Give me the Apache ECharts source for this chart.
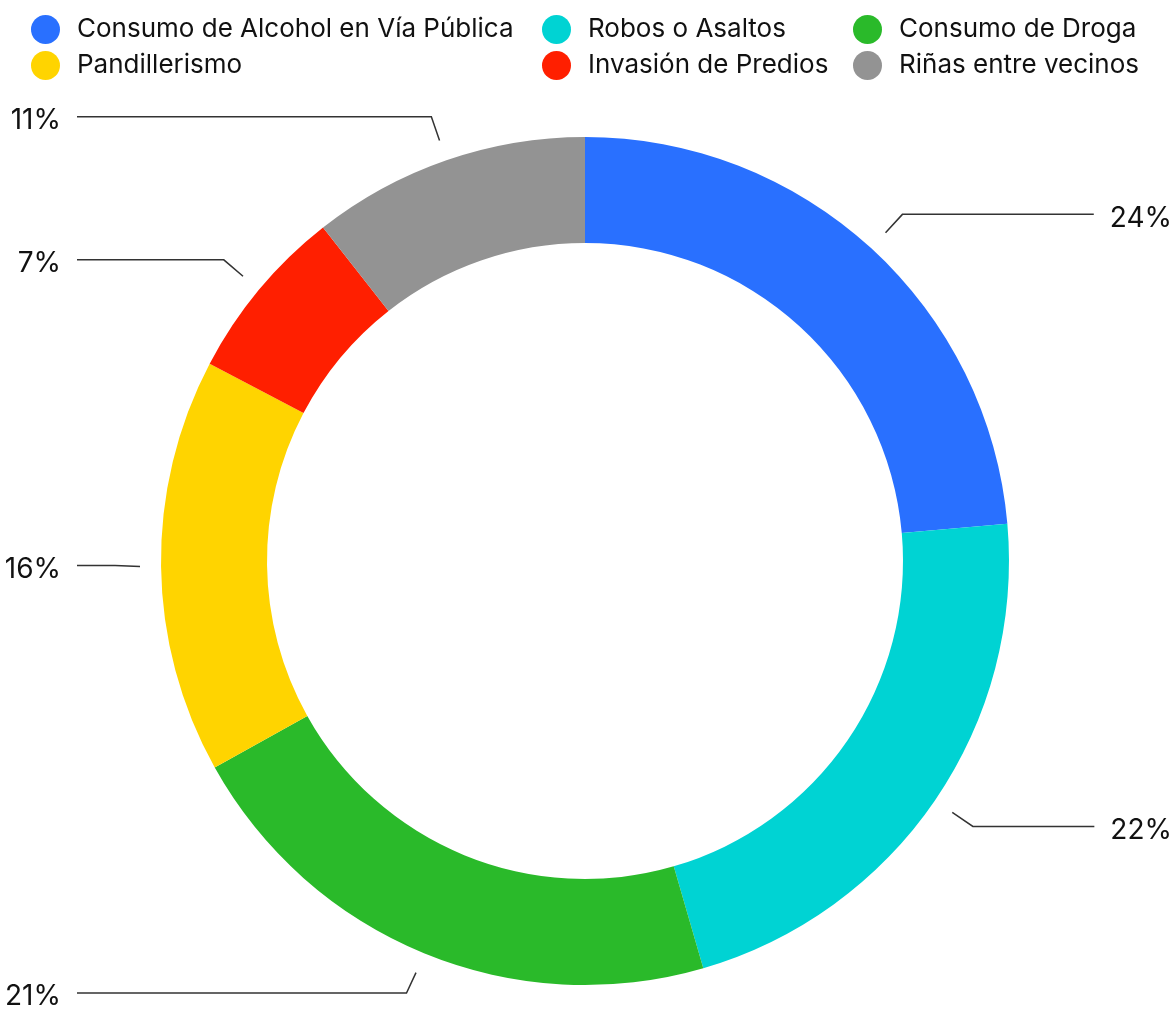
<!DOCTYPE html>
<html>
<head>
<meta charset="utf-8">
<title>Problemas en el barrio</title>
<script src="https://cdn.jsdelivr.net/npm/echarts@6/dist/echarts.min.js"></script>
<style>
  html, body { margin: 0; padding: 0; background: #fff; }
  #chart { width: 1175px; height: 1012px; }
</style>
</head>
<body>
<div id="chart"></div>
<script>
// categorias (en orden horario desde las 12)
var categories = ['Consumo de Alcohol en Vía Pública', 'Robos o Asaltos', 'Consumo de Droga', 'Pandillerismo', 'Invasión de Predios', 'Riñas entre vecinos'];
// porcentaje de cada problema
var values = [23.6, 21.9, 21.4, 15.8, 6.7, 10.6];
var colors = ['#2970ff', '#00d3d3', '#2aba2a', '#ffd400', '#ff1f00', '#939393'];
// columnas de la leyenda
var legendCols = [
    ['Consumo de Alcohol en Vía Pública', 'Pandillerismo'],
    ['Robos o Asaltos', 'Invasión de Predios'],
    ['Consumo de Droga', 'Riñas entre vecinos']
];

var FONT = 'Inter, "Noto Sans", sans-serif';
var LABEL_W = 58, LABEL_GAP = 16;
var myChart = echarts.init(document.getElementById('chart'));

var pieData = categories.map(function (name, i) {
    return { name: name, value: values[i], itemStyle: { color: colors[i] } };
});
var legendX = [31, 542, 853];

var option = {
    backgroundColor: '#fff',
    animation: false,
    legend: legendCols.map(function (col, i) {
        return {
            orient: 'vertical',
            left: legendX[i],
            top: 15,
            padding: 0,
            data: col,
            icon: 'circle',
            itemWidth: 29,
            itemHeight: 29,
            itemGap: 7,
            selectedMode: false,
            textStyle: {
                fontSize: 26,
                lineHeight: 29,
                fontFamily: FONT,
                color: '#111',
                padding: [0, 0, 0, 12]
            }
        };
    }),
    series: [
        {
            // anillo visible
            type: 'pie',
            center: [585, 561],
            radius: [318, 424],
            startAngle: 90,
            silent: true,
            label: { show: false },
            labelLine: { show: false },
            data: pieData
        },
        {
            // anillo transparente, solo para las etiquetas (la linea arranca separada)
            type: 'pie',
            center: [585, 561],
            radius: [424, 445],
            startAngle: 90,
            silent: true,
            itemStyle: { color: 'rgba(0,0,0,0)' },
            label: {
                show: true,
                position: 'outside',
                alignTo: 'edge',
                edgeDistance: 3,
                distanceToLabelLine: LABEL_GAP,
                width: LABEL_W,
                overflow: 'none',
                padding: [8, 0, 0, 0],
                formatter: function (p) {
                    return '{v|' + Math.round(p.value) + '%}';
                },
                rich: {
                    v: { align: 'right', fontSize: 28, fontFamily: FONT, color: '#111' }
                }
            },
            labelLine: {
                show: true,
                length: 25,
                length2: 10,
                lineStyle: { color: '#333', width: 1.5 }
            },
            // la linea termina a la misma distancia del texto
            labelLayout: function (p) {
                var pts = p.labelLinePoints;
                if (!pts) return {};
                var r = p.labelRect;
                var toLeft = pts[2][0] < pts[0][0];
                var endX = toLeft ? r.x + r.width + LABEL_GAP : r.x - LABEL_GAP;
                return { labelLinePoints: [pts[0], [pts[1][0], pts[2][1]], [endX, pts[2][1]]] };
            },
            data: categories.map(function (name, i) {
                return { name: name, value: values[i] };
            })
        }
    ]
};
myChart.setOption(option);
</script>
</body>
</html>
